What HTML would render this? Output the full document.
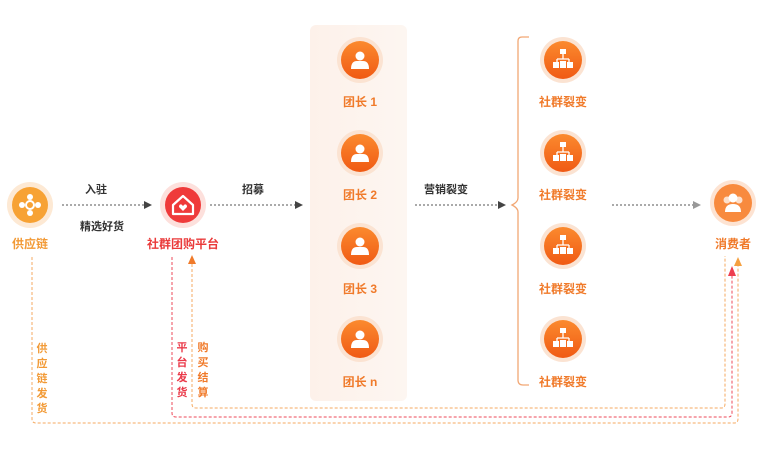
<!DOCTYPE html>
<html><head><meta charset="utf-8"><style>
html,body{margin:0;padding:0;background:#fff;}
svg text{font-family:"Liberation Sans","Noto Sans CJK SC",sans-serif;font-weight:bold;}
</style></head><body>
<svg width="760" height="454" viewBox="0 0 760 454" xmlns="http://www.w3.org/2000/svg">
<defs>
<linearGradient id="og" x1="0" y1="0" x2="0" y2="1"><stop offset="0" stop-color="#fb8a2e"/><stop offset="1" stop-color="#f05a14"/></linearGradient>
<linearGradient id="pnl" x1="0" y1="0" x2="1" y2="0"><stop offset="0" stop-color="#fdf1ea"/><stop offset="1" stop-color="#fdf6f1"/></linearGradient>
<g id="person"><circle cx="0" cy="-4" r="4.5" fill="#fff"/><path d="M-9 9 Q-9 1 -3 1 L3 1 Q9 1 9 9 Z" fill="#fff"/></g>
<g id="net"><rect x="-3" y="-11" width="6" height="5" fill="#fff"/><path d="M0 -6 V-1 M-6 -1 H6 M-6 -1 V3 M6 -1 V3" stroke="#fff" stroke-width="1.3" fill="none"/><rect x="-10" y="2" width="6" height="6" fill="#fff"/><rect x="4" y="2" width="6" height="6" fill="#fff"/><rect x="-3" y="1" width="6" height="7" fill="#fff"/></g>
</defs>
<!-- panel -->
<rect x="310" y="25" width="97" height="376" rx="6" fill="url(#pnl)"/>

<!-- dashed bottom lines -->
<g fill="none" stroke-dasharray="3,2" stroke-width="1">
<path d="M32 257 V419 Q32 423 36 423 H734 Q738 423 738 419 V266" stroke="#f5a960"/>
<path d="M172 257 V413 Q172 417 176 417 H728 Q732 417 732 413 V276" stroke="#ee4a5a"/>
<path d="M192 264 V404 Q192 408 196 408 H721 Q725 408 725 404 V256" stroke="#f5a960"/>
</g>
<polygon points="738,257 734,266 742,266" fill="#f5a040"/>
<polygon points="732,266 728,276 736,276" fill="#ee3f4f"/>
<polygon points="192,255 188,264 196,264" fill="#f07a2a"/>

<!-- horizontal arrows -->
<g stroke="#777" stroke-dasharray="2,2" stroke-width="1.2">
<line x1="62" y1="205" x2="145" y2="205"/>
<line x1="210" y1="205" x2="295" y2="205"/>
<line x1="415" y1="205" x2="498" y2="205"/>
<line x1="612" y1="205" x2="693" y2="205"/>
</g>
<polygon points="152,205 144,201 144,209" fill="#444"/>
<polygon points="303,205 295,201 295,209" fill="#444"/>
<polygon points="506,205 498,201 498,209" fill="#444"/>
<polygon points="701,205 693,201 693,209" fill="#999"/>

<g font-size="11" fill="#333" text-anchor="middle">
<text x="96" y="193">入驻</text>
<text x="102" y="230">精选好货</text>
<text x="253" y="193">招募</text>
<text x="446" y="193">营销裂变</text>
</g>

<!-- brace -->
<path d="M529 37 H522 Q518 37 518 41 V198 Q518 202 512 205 Q518 208 518 212 V380 Q518 385 523 385 H529" fill="none" stroke="#f2a774" stroke-width="1.3"/>

<!-- supply chain -->
<circle cx="30" cy="205" r="23" fill="#fde9d4"/>
<circle cx="30" cy="205" r="18" fill="#f7a234"/>
<g fill="#fff"><circle cx="30" cy="197" r="3"/><circle cx="30" cy="213" r="3"/><circle cx="22" cy="205" r="3"/><circle cx="38" cy="205" r="3"/><circle cx="30" cy="205" r="4" fill="none" stroke="#fff" stroke-width="2"/></g>
<text x="30" y="248" font-size="12" fill="#f29a36" text-anchor="middle">供应链</text>

<!-- platform -->
<circle cx="183" cy="205" r="23" fill="#fde0dc"/>
<circle cx="183" cy="205" r="18" fill="#ef3a3a"/>
<path d="M173 205 L183 196 L193 205 V214 H173 Z" fill="none" stroke="#fff" stroke-width="2.2" stroke-linejoin="round"/>
<path d="M183 211 L179 207 Q179 204 181.5 204.5 L183 206 L184.5 204.5 Q187 204 187 207 Z" fill="#fff"/>
<text x="183" y="248" font-size="12" fill="#ea3a3a" text-anchor="middle">社群团购平台</text>

<!-- leaders -->
<g font-size="12" fill="#f07a2a" text-anchor="middle">
<g transform="translate(360,60)"><circle r="23" fill="#fbe3d2"/><circle r="19" fill="url(#og)"/><use href="#person"/></g>
<text x="360" y="106">团长 1</text>
<g transform="translate(360,153)"><circle r="23" fill="#fbe3d2"/><circle r="19" fill="url(#og)"/><use href="#person"/></g>
<text x="360" y="199">团长 2</text>
<g transform="translate(360,246)"><circle r="23" fill="#fbe3d2"/><circle r="19" fill="url(#og)"/><use href="#person"/></g>
<text x="360" y="293">团长 3</text>
<g transform="translate(360,339)"><circle r="23" fill="#fbe3d2"/><circle r="19" fill="url(#og)"/><use href="#person"/></g>
<text x="360" y="386">团长 n</text>

<g transform="translate(563,60)"><circle r="23" fill="#fbe3d2"/><circle r="19" fill="url(#og)"/><use href="#net"/></g>
<text x="563" y="106">社群裂变</text>
<g transform="translate(563,153)"><circle r="23" fill="#fbe3d2"/><circle r="19" fill="url(#og)"/><use href="#net"/></g>
<text x="563" y="199">社群裂变</text>
<g transform="translate(563,246)"><circle r="23" fill="#fbe3d2"/><circle r="19" fill="url(#og)"/><use href="#net"/></g>
<text x="563" y="293">社群裂变</text>
<g transform="translate(563,339)"><circle r="23" fill="#fbe3d2"/><circle r="19" fill="url(#og)"/><use href="#net"/></g>
<text x="563" y="386">社群裂变</text>

<!-- consumer -->
<g transform="translate(733,203)"><circle r="23" fill="#fde3d2"/><circle r="19" fill="#f88a3e"/>
<circle cx="-6" cy="-3" r="3.5" fill="#fde0cc"/><circle cx="6" cy="-3" r="3.5" fill="#fde0cc"/><circle cx="0" cy="-5" r="4.5" fill="#fff"/>
<path d="M-8 9 Q-8 1 0 1 Q8 1 8 9 Z" fill="#fff"/></g>
<text x="733" y="248">消费者</text>
</g>

<!-- vertical labels -->
<g font-size="11" text-anchor="middle">
<text x="42" y="352" fill="#f29a36">供</text><text x="42" y="367" fill="#f29a36">应</text><text x="42" y="382" fill="#f29a36">链</text><text x="42" y="397" fill="#f29a36">发</text><text x="42" y="412" fill="#f29a36">货</text>
<text x="182" y="351" fill="#ea3a4a">平</text><text x="182" y="366" fill="#ea3a4a">台</text><text x="182" y="381" fill="#ea3a4a">发</text><text x="182" y="396" fill="#ea3a4a">货</text>
<text x="203" y="351" fill="#f07a2a">购</text><text x="203" y="366" fill="#f07a2a">买</text><text x="203" y="381" fill="#f07a2a">结</text><text x="203" y="396" fill="#f07a2a">算</text>
</g>
</svg>
</body></html>
